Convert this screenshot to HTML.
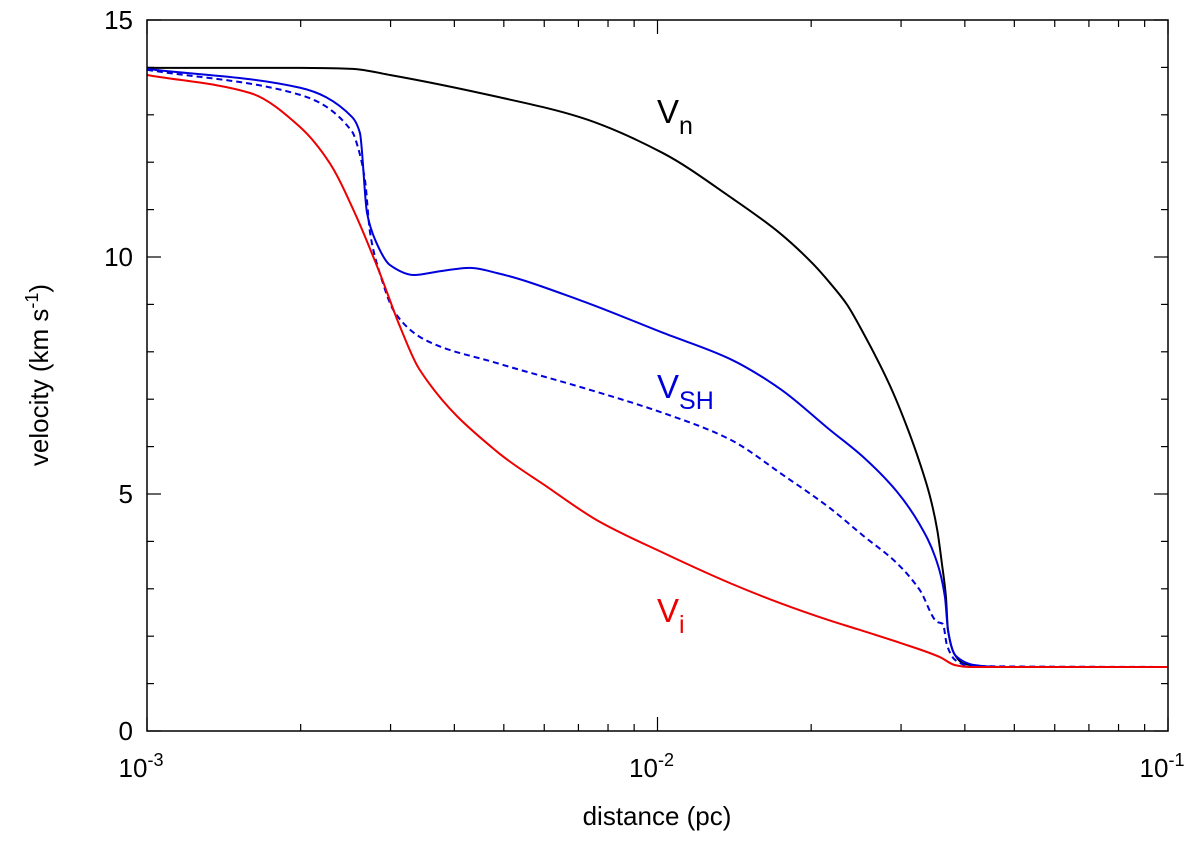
<!DOCTYPE html>
<html><head><meta charset="utf-8"><style>
body{margin:0;background:#fff}
svg text{font-family:"Liberation Sans",sans-serif}
</style></head><body>
<svg id="chart" width="1200" height="838" viewBox="0 0 1200 838" xmlns="http://www.w3.org/2000/svg">
<g id="curves"></g>
<rect x="147" y="20" width="1021" height="711" fill="none" stroke="#000" stroke-width="1.5"/>
<g id="ticks"></g>
<text x="657" y="825" font-size="26" text-anchor="middle">distance (pc)</text>
<text transform="translate(48,375) rotate(-90)" font-size="26" text-anchor="middle">velocity (km s<tspan dy="-10" font-size="18">-1</tspan><tspan dy="10">)</tspan></text>
<text x="657" y="123" font-size="33">V<tspan dy="11" font-size="25">n</tspan></text>
<text x="657" y="398" font-size="33" fill="#0000dd">V<tspan dy="11" font-size="25">SH</tspan></text>
<text x="657" y="622" font-size="33" fill="#ee0000">V<tspan dy="11" font-size="25">i</tspan></text>
</svg>
<script>
// log10(distance in pc) and velocity (km/s)
const vnLogX=[-3,-2.700,-2.598,-2.524,-2.314,-2.152,-1.989,-1.858,-1.760,-1.695,-1.662,-1.629,-1.597,-1.564,-1.539,-1.509,-1.486,-1.466,-1.452,-1.443,-1.435,-1.431,-1.417,-1.398,-1.329,-1];
const vnY=[13.99,13.99,13.97,13.84,13.38,12.95,12.19,11.27,10.50,9.85,9.45,9.00,8.40,7.72,7.15,6.35,5.65,4.94,4.24,3.54,2.83,2.13,1.60,1.41,1.35,1.35];
const vshLogX=[-3,-2.700,-2.598,-2.583,-2.569,-2.553,-2.524,-2.477,-2.426,-2.367,-2.314,-2.152,-1.989,-1.858,-1.760,-1.662,-1.597,-1.531,-1.486,-1.456,-1.437,-1.431,-1.417,-1.378,-1.329,-1];
const vshY=[13.97,13.57,12.95,12.62,10.93,10.36,9.83,9.62,9.70,9.77,9.66,9.09,8.40,7.85,7.22,6.35,5.78,5.05,4.35,3.67,2.83,2.13,1.60,1.39,1.35,1.35];
const vshDashLogX=[-3,-2.700,-2.598,-2.587,-2.573,-2.563,-2.544,-2.514,-2.455,-2.314,-2.152,-1.989,-1.858,-1.754,-1.662,-1.597,-1.531,-1.486,-1.452,-1.441,-1.433,-1.417,-1.388,-1];
const vshDashY=[13.95,13.42,12.64,12.32,11.62,10.51,9.66,8.82,8.25,7.76,7.26,6.71,6.15,5.40,4.70,4.12,3.54,2.97,2.30,2.26,1.81,1.50,1.37,1.35];
const viLogX=[-3,-2.798,-2.700,-2.642,-2.593,-2.544,-2.504,-2.467,-2.314,-2.216,-2.119,-1.989,-1.858,-1.760,-1.662,-1.609,-1.525,-1.447,-1.417,-1.388,-1];
const viY=[13.84,13.46,12.74,11.98,10.93,9.66,8.52,7.64,5.89,5.15,4.45,3.76,3.12,2.70,2.33,2.15,1.86,1.56,1.39,1.35,1.35];
const yTicks=[0,5,10,15];
const xDecades=[-3,-2,-1];

const X0=147,X1=1168,Y0=731,Y1=20;
const sx=l=>X0+(l+3)/2*(X1-X0);
const sy=v=>Y0-v/15*(Y0-Y1);
const NS='http://www.w3.org/2000/svg';
function mk(tag,attrs,parent){const e=document.createElementNS(NS,tag);for(const k in attrs)e.setAttribute(k,attrs[k]);parent.appendChild(e);return e;}
function pathD(xs,ys){
  const px=xs.map(sx),py=ys.map(sy),n=px.length;
  const d=[],m=new Array(n);
  for(let i=0;i<n-1;i++)d.push((py[i+1]-py[i])/(px[i+1]-px[i]));
  m[0]=d[0];m[n-1]=d[n-2];
  for(let i=1;i<n-1;i++){
    if(d[i-1]*d[i]<=0)m[i]=0;
    else{const w1=2*(px[i+1]-px[i])+(px[i]-px[i-1]),w2=(px[i+1]-px[i])+2*(px[i]-px[i-1]);m[i]=(w1+w2)/(w1/d[i-1]+w2/d[i]);}
  }
  let s='M'+px[0]+','+py[0];
  for(let i=0;i<n-1;i++){
    const h=(px[i+1]-px[i])/3;
    s+=' C'+(px[i]+h)+','+(py[i]+m[i]*h)+' '+(px[i+1]-h)+','+(py[i+1]-m[i+1]*h)+' '+px[i+1]+','+py[i+1];
  }
  return s;
}
const curves=document.getElementById('curves');
const series=[[vnLogX,vnY,'#000','','curve-vn'],[vshLogX,vshY,'#0000dd','','curve-vsh'],[vshDashLogX,vshDashY,'#0000dd','6,4','curve-vsh-dashed'],[viLogX,viY,'#ee0000','','curve-vi']];
for(const s of series){
  const e=mk('path',{d:pathD(s[0],s[1]),fill:'none',stroke:s[2],'stroke-width':2,'stroke-dasharray':s[3]||'none'},curves);
  
  
}
const tk=document.getElementById('ticks');
for(let v=0;v<=15;v++){
  const y=sy(v),L=(v%5===0)?14:7;
  mk('line',{x1:X0,x2:X0+L,y1:y,y2:y,stroke:'#000','stroke-width':1.2},tk);
  mk('line',{x1:X1,x2:X1-L,y1:y,y2:y,stroke:'#000','stroke-width':1.2},tk);
}
for(const v of yTicks){
  const t=mk('text',{x:X0-14,y:sy(v)+9,'font-size':26,'text-anchor':'end'},tk);
  t.textContent=v;
  
  
}
for(const dd of xDecades){
  for(let m=1;m<10;m++){
    const l=dd+Math.log10(m); if(l>-1+1e-9)break;
    const x=sx(l),L=m===1?14:7;
    mk('line',{x1:x,x2:x,y1:Y0,y2:Y0-L,stroke:'#000','stroke-width':1.2},tk);
    mk('line',{x1:x,x2:x,y1:Y1,y2:Y1+L,stroke:'#000','stroke-width':1.2},tk);
  }
  const t=mk('text',{x:sx(dd)-6,y:777,'font-size':26,'text-anchor':'middle'},tk);
  t.innerHTML='10<tspan dy="-11" font-size="18">'+dd+'</tspan>';
  
  
}
</script>
</body></html>
